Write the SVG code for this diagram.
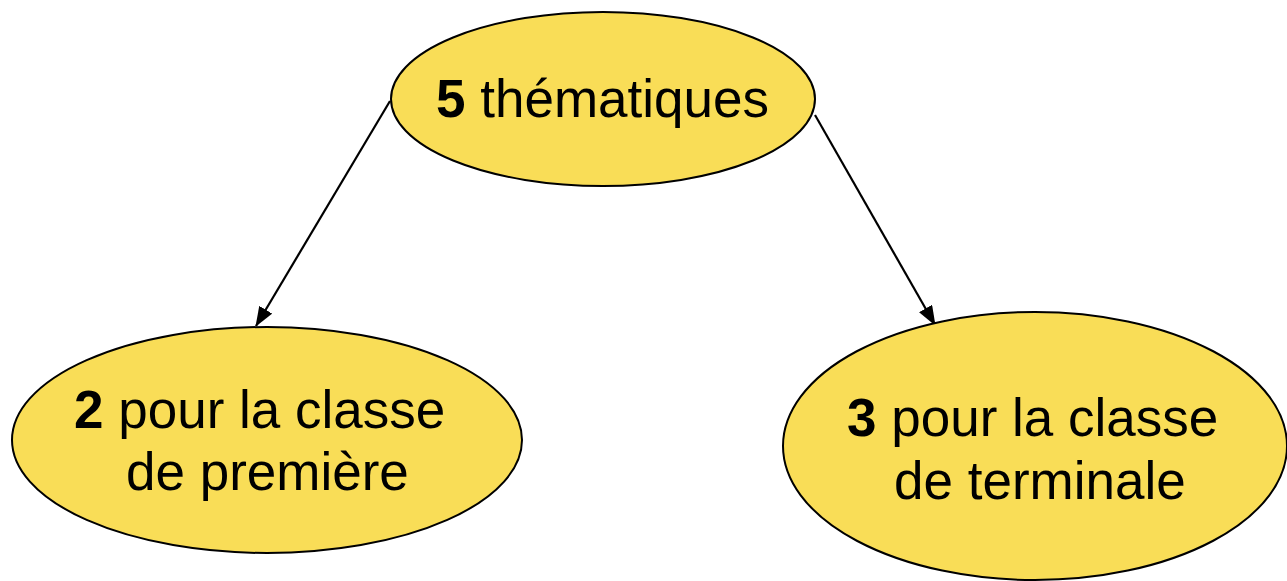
<svg xmlns="http://www.w3.org/2000/svg" width="1287" height="581" viewBox="0 0 1287 581">
<style>
.node{fill:#F9DD57;stroke:#000;stroke-width:2}
.lbl{font-family:"Liberation Sans",Arial,sans-serif;font-size:53px;fill:#000}
.b{font-weight:bold}
.conn{stroke:#000;stroke-width:2.2;fill:none;marker-end:url(#ah)}
</style>
<defs>
<marker id="ah" markerWidth="20" markerHeight="15" refX="19" refY="7.5" orient="auto" markerUnits="userSpaceOnUse" viewBox="0 0 20 15">
<path d="M0,0 L20,7.5 L0,15 Z" fill="#000"/>
</marker>
</defs>
<rect width="1287" height="581" fill="#fff"/>
<g id="connectors">
<line class="conn" x1="390" y1="101" x2="256" y2="326"/>
<line class="conn" x1="815" y1="115" x2="935" y2="325"/>
</g>
<g id="node-top">
<ellipse class="node" cx="603" cy="99" rx="212" ry="87"/>
<text class="lbl" x="436" y="117"><tspan class="b">5</tspan> thématiques</text>
</g>
<g id="node-left">
<ellipse class="node" cx="267" cy="440" rx="255" ry="113"/>
<text class="lbl" x="74" y="428"><tspan class="b">2</tspan> pour la classe</text>
<text class="lbl" x="126" y="490">de première</text>
</g>
<g id="node-right">
<ellipse class="node" cx="1035" cy="446" rx="252" ry="134"/>
<text class="lbl" x="847" y="436"><tspan class="b">3</tspan> pour la classe</text>
<text class="lbl" x="894" y="499">de terminale</text>
</g>
</svg>
